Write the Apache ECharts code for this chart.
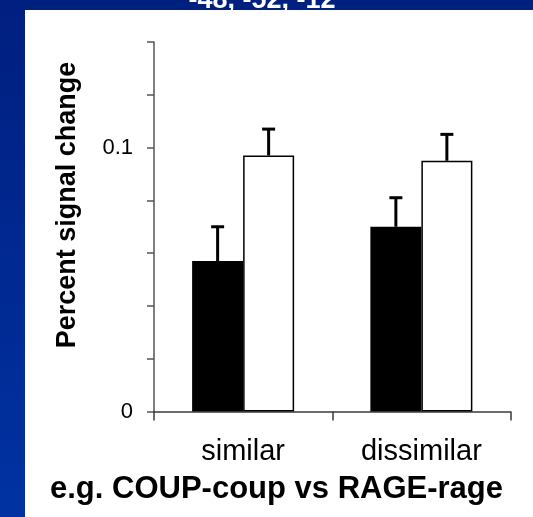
<!DOCTYPE html>
<html>
<head>
<meta charset="utf-8">
<style>
  html, body { margin: 0; padding: 0; background: #ffffff; }
  #chart { width: 533px; height: 517px; }
</style>
<script src="https://cdn.jsdelivr.net/npm/echarts@6/dist/echarts.min.js"></script>
</head>
<body>
<div id="chart"></div>
<script>
// Condition names along the x axis
const categories = ['similar', 'dissimilar'];
// Mean percent signal change per condition (filled and open bars)
const filledMeans = [0.057, 0.070];
const openMeans = [0.097, 0.095];
// Standard error for each bar
const filledErrors = [0.013, 0.011];
const openErrors = [0.010, 0.010];
// Values that carry a printed tick label
const labelledTicks = [0, 0.1];

const FONT = '"Liberation Sans", Arial, Helvetica, sans-serif';
const BAR_W = 51;

const chart = echarts.init(document.getElementById('chart'), null, { renderer: 'canvas' });

// Error-bar whisker drawn above a bar, shifted left or right inside its category band
function whisker(side) {
  return function (params, api) {
    const top = api.coord([api.value(0), api.value(1) + api.value(2)]);
    const base = api.coord([api.value(0), api.value(1)]);
    const x = top[0] + side * BAR_W / 2;
    const capHalf = 6.5;
    const style = { stroke: '#000', lineWidth: 3 };
    return {
      type: 'group',
      children: [
        { type: 'line', shape: { x1: x, y1: base[1], x2: x, y2: top[1] }, style: style },
        { type: 'line', shape: { x1: x - capHalf, y1: top[1], x2: x + capHalf, y2: top[1] }, style: style }
      ]
    };
  };
}

const option = {
  backgroundColor: '#ffffff',
  animation: false,
  grid: { left: 154, right: 22.5, top: 42, bottom: 105.5, containLabel: false },
  xAxis: {
    type: 'category',
    data: categories,
    boundaryGap: true,
    axisLine: { lineStyle: { color: '#3a3a3a', width: 1.5 } },
    axisTick: { show: true, inside: false, length: 9, lineStyle: { color: '#3a3a3a', width: 1.5 } },
    axisLabel: { color: '#000', fontSize: 29, fontFamily: FONT, margin: 26 }
  },
  yAxis: {
    type: 'value',
    min: 0,
    max: 0.14,
    interval: 0.02,
    axisLine: { show: true, lineStyle: { color: '#555', width: 1.5 } },
    axisTick: { show: true, length: 7, lineStyle: { color: '#555', width: 1.5 } },
    splitLine: { show: false },
    axisLabel: {
      color: '#000', fontSize: 22, fontFamily: FONT, margin: 21,
      formatter: function (v) {
        return labelledTicks.some(t => Math.abs(t - v) < 1e-9) ? String(+v.toFixed(2)) : '';
      }
    }
  },
  graphic: [
    // slide frame: navy strip along the top and a blue gradient strip down the left
    { type: 'rect', z: -10, shape: { x: 0, y: 0, width: 533, height: 10 }, style: { fill: '#00207f' } },
    {
      type: 'rect', z: -10, shape: { x: 0, y: 0, width: 25, height: 517 },
      style: {
        fill: new echarts.graphic.LinearGradient(0, 0, 0, 1, [
          { offset: 0, color: '#001f80' },
          { offset: 1, color: '#0032a2' }
        ])
      }
    },
    {
      type: 'text', z: 5, x: 262, y: -13,
      style: { text: '-48, -52, -12', fill: '#ffffff', font: 'bold 27px ' + FONT, textAlign: 'center', textVerticalAlign: 'top' }
    },
    {
      type: 'text', z: 5, x: 67.5, y: 205, rotation: Math.PI / 2,
      style: { text: 'Percent signal change', fill: '#000', font: 'bold 27px ' + FONT, textAlign: 'center', textVerticalAlign: 'middle' }
    },
    {
      type: 'text', z: 5, x: 276.5, y: 489,
      style: { text: 'e.g. COUP-coup vs RAGE-rage', fill: '#000', font: 'bold 31px ' + FONT, textAlign: 'center', textVerticalAlign: 'middle' }
    }
  ],
  series: [
    {
      type: 'bar', data: filledMeans, barWidth: BAR_W, barGap: '0%',
      itemStyle: { color: '#000', borderColor: '#000', borderWidth: 1.5 }
    },
    {
      type: 'bar', data: openMeans, barWidth: BAR_W, barGap: '0%',
      itemStyle: { color: '#fff', borderColor: '#000', borderWidth: 1.5 }
    },
    {
      type: 'custom', renderItem: whisker(-1), z: 3,
      data: categories.map((c, i) => [i, filledMeans[i], filledErrors[i]])
    },
    {
      type: 'custom', renderItem: whisker(1), z: 3,
      data: categories.map((c, i) => [i, openMeans[i], openErrors[i]])
    }
  ]
};

chart.setOption(option);
</script>
</body>
</html>
